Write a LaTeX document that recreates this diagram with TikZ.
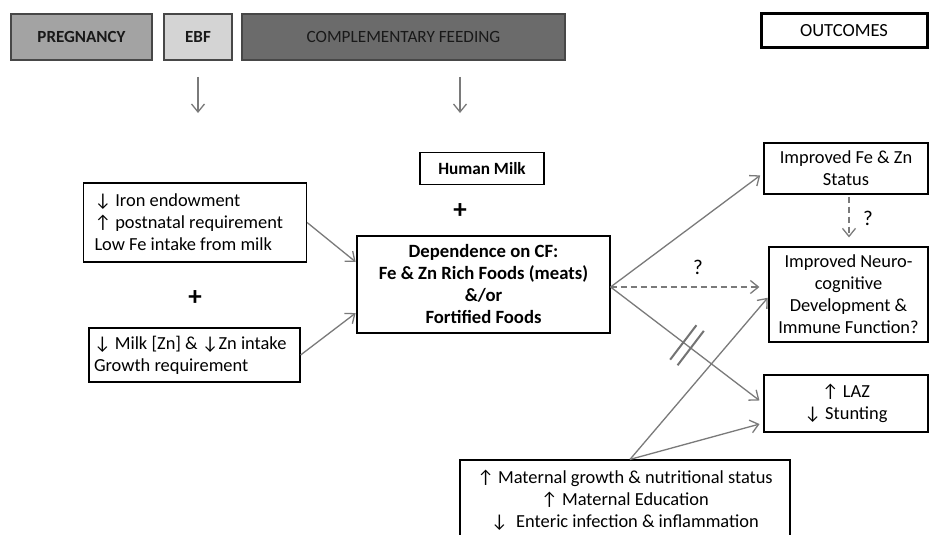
\documentclass[tikz,border=0pt]{standalone}
\usepackage{fontspec}
\setmainfont{Carlito}
\usetikzlibrary{arrows.meta,calc}
\newcommand\myup{{\char"2191}}
\newcommand\mydn{{\char"2193}}
\begin{document}
\begin{tikzpicture}[x=1pt,y=-1pt,
  hdr/.style={draw=black!72, line width=2pt, inner sep=0pt, font=\fontsize{17.2}{20}\selectfont, text=black!90},
  bx/.style={draw=black, line width=1.2pt, fill=white, inner sep=0pt, align=center, font=\fontsize{18.4}{22}\selectfont},
  conn/.style={draw=black!52, line width=1.3pt, -{Straight Barb[length=8pt,width=13pt]}},
  dconn/.style={conn, dash pattern=on 6pt off 4pt},
  plus/.style={font=\bfseries\fontsize{27}{27}\selectfont, inner sep=0pt},
  qm/.style={font=\fontsize{21}{22}\selectfont, inner sep=0pt}]
\useasboundingbox (0,0) rectangle (929,535);
\fill[white] (0,0) rectangle (929,535);

% header bars
\node[hdr, fill=black!36, minimum width=141pt, minimum height=46pt, font=\bfseries\fontsize{17}{20}\selectfont] (preg) at (81.5,37) {\raisebox{-2pt}{PREGNANCY}};
\node[hdr, fill=black!17, minimum width=68pt, minimum height=46pt, font=\bfseries\fontsize{17}{20}\selectfont] (ebf) at (198,37) {\raisebox{-2pt}{EBF}};
\node[hdr, fill=black!58, minimum width=323pt, minimum height=46pt] (cf) at (403.5,37) {\raisebox{-2pt}{COMPLEMENTARY FEEDING}};
\node[draw=black, line width=3pt, fill=white, inner sep=0pt, minimum width=166pt, minimum height=34pt, font=\fontsize{18.5}{20}\selectfont] (out) at (844,31) {OUTCOMES};

% top down arrows
\coordinate (a1s) at (198,77); \coordinate (a1e) at (198,113);
\coordinate (a2s) at (460,77); \coordinate (a2e) at (460,113);
\draw[conn] (a1s) -- (a1e);
\draw[conn] (a2s) -- (a2e);

% centre column
\node[bx, minimum width=124pt, minimum height=32pt, font=\bfseries\fontsize{17.2}{20}\selectfont] (hm) at (482,168.5) {Human Milk};
\node[plus] (p1) at (460,211) {+};
\node[bx, minimum width=253pt, minimum height=97pt, font=\bfseries\fontsize{18.7}{22}\selectfont] (dep) at (483.5,284.5)
  {Dependence on CF:\\ Fe \& Zn Rich Foods (meats)\\ \&/or\\ Fortified Foods};

% left column
\node[bx, align=flush left, text width=201pt, inner xsep=11pt, minimum height=79pt] (lb1) at (195,222.5)
  {\mydn\ Iron endowment\\ \myup\ postnatal requirement\\ Low Fe intake from milk};
\node[plus] (p2) at (195,298) {+};
\node[bx, align=flush left, text width=201pt, inner xsep=5pt, minimum height=54pt] (lb2) at (194.5,355)
  {\mydn\ Milk [Zn] \& \mydn Zn intake\\ Growth requirement};

% outcomes column
\node[bx, minimum width=164pt, minimum height=51pt] (fe) at (846,168.5) {Improved Fe \& Zn\\ Status};
\node[bx, minimum width=159pt, minimum height=95pt] (neuro) at (848.5,294.5)
  {Improved Neuro-\\ cognitive\\ Development \&\\ Immune Function?};
\node[bx, minimum width=164pt, minimum height=57pt] (laz) at (846,403.5) {\myup\ LAZ\\ \mydn\ Stunting};

% maternal box
\node[bx, minimum width=330pt, minimum height=80pt] (mat) at (625,500)
  {\myup\ Maternal growth \& nutritional status\\ \myup\ Maternal Education\\ \mydn\ \ Enteric infection \& inflammation};

% connectors
\draw[conn, shorten >=1pt] (lb1.east) -- ([yshift=22pt]dep.west);
\draw[conn, shorten >=1pt] (lb2.east) -- ([yshift=-28pt]dep.west);
\coordinate (depR) at ([yshift=-2.5pt]dep.east);
\draw[conn, shorten >=4pt] (depR) -- ([yshift=-4.5pt]fe.west);
\draw[dconn] (depR) -- ([xshift=-9pt,yshift=7.5pt]neuro.west);
\draw[conn, shorten >=5pt] (depR) -- node[midway, sloped, inner sep=0pt, minimum width=8pt, minimum height=42pt] (hs) {} ([yshift=0pt]laz.west);
\draw[black!55, line width=2pt] (hs.north west) -- (hs.south west);
\draw[black!55, line width=2pt] (hs.north east) -- (hs.south east);
\draw[dconn, shorten <=2pt, shorten >=9pt] ([xshift=3pt]fe.south) -- ([xshift=0.5pt]neuro.north);
\draw[conn, shorten >=1pt] ([xshift=5pt]mat.north) -- ([yshift=-2.5pt]neuro.west);
\draw[conn, shorten >=4pt] ([xshift=5pt]mat.north) -- ([yshift=-19.5pt]laz.west);

% question marks
\node[qm] (q1) at (868,218) {?};
\node[qm] (q2) at (698,267) {?};
\end{tikzpicture}
\end{document}
